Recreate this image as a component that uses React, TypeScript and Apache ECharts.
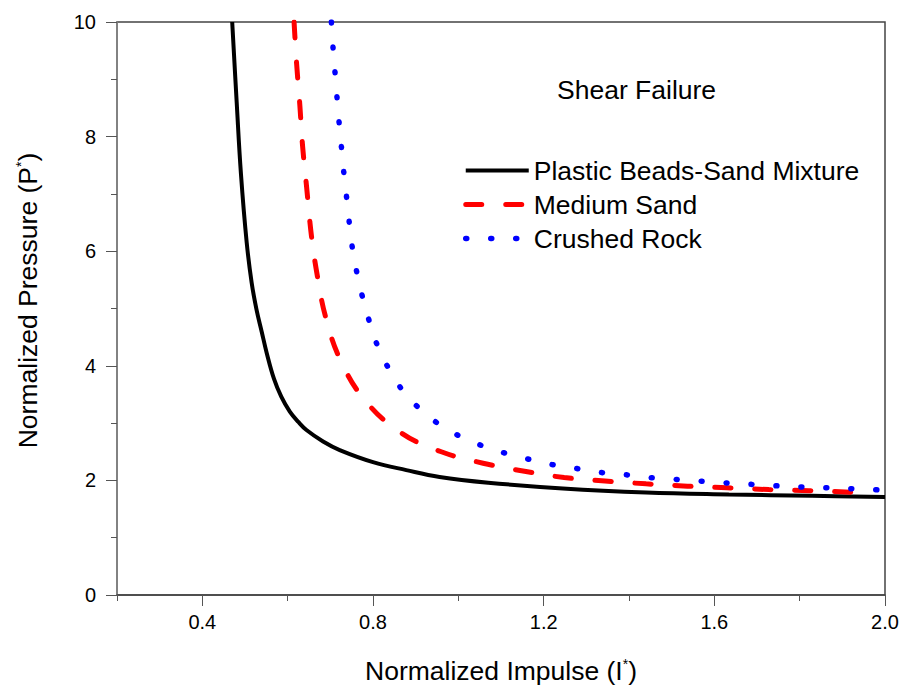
import React, { useEffect, useRef } from "react";
import * as echarts from "echarts";

const seriesNames = ["Plastic Beads-Sand Mixture", "Medium Sand", "Crushed Rock"];

const plasticImpulse = [0.470, 0.4805, 0.4905, 0.504, 0.5156, 0.527, 0.539, 0.551, 0.568, 0.585, 0.605, 0.625, 0.644, 0.683, 0.722, 0.800, 0.878, 0.956, 1.07, 1.245, 1.44, 1.634, 1.829, 2.0];
const plasticPressure = [10.0, 8.60, 7.35, 6.15, 5.45, 4.98, 4.60, 4.22, 3.77, 3.46, 3.20, 3.02, 2.88, 2.68, 2.53, 2.32, 2.18, 2.06, 1.96, 1.86, 1.79, 1.755, 1.73, 1.71];

const sandImpulse = [0.615, 0.621, 0.6286, 0.6349, 0.644, 0.656, 0.670, 0.689, 0.723, 0.781, 0.866, 0.960, 1.058, 1.155, 1.248, 1.344, 1.44, 1.537, 1.63, 1.728, 1.822, 1.919, 1.96];
const sandPressure = [10.0, 9.27, 8.54, 7.84, 7.15, 6.25, 5.55, 4.85, 4.11, 3.40, 2.83, 2.50, 2.30, 2.16, 2.05, 1.99, 1.94, 1.90, 1.87, 1.84, 1.82, 1.795, 1.785];

const rockImpulse = [0.7025, 0.7065, 0.7112, 0.7158, 0.7205, 0.7261, 0.7315, 0.7378, 0.751, 0.761, 0.774, 0.790, 0.809, 0.837, 0.874, 0.930, 0.986, 1.044, 1.103, 1.159, 1.217, 1.275, 1.332, 1.39, 1.447, 1.505, 1.562, 1.620, 1.677, 1.735, 1.792, 1.849, 1.907, 1.964, 1.985];
const rockPressure = [10.0, 9.53, 9.10, 8.67, 8.25, 7.81, 7.38, 6.96, 6.09, 5.67, 5.24, 4.81, 4.38, 3.95, 3.53, 3.12, 2.84, 2.64, 2.49, 2.38, 2.28, 2.21, 2.14, 2.10, 2.05, 2.02, 1.99, 1.96, 1.935, 1.91, 1.89, 1.875, 1.86, 1.84, 1.835];

const xMajorTicks = [0.4, 0.8, 1.2, 1.6, 2.0];
const xMinorTicks = [0.2, 0.6, 1.0, 1.4, 1.8];
const xMin = 0.2;
const xMax = 2.0;
const yMin = 0;
const yMax = 10;
const yInterval = 2;

const FONT = '"Liberation Sans", Arial, sans-serif';
const BIG = 26.5;

const zip = (xs: number[], ys: number[]) => xs.map((x, i) => [x, ys[i]]);

export default function App() {
  const ref = useRef<HTMLDivElement>(null);
  useEffect(() => {
    if (!ref.current) return;
    const chart = echarts.init(ref.current, null, { renderer: "svg" });
    const axisColor = "#555";
    const lineStyles: any[] = [
      { color: "#000", width: 4, type: "solid" },
      { color: "#ff0000", width: 5, type: [16, 24], cap: "round" },
      { color: "#0000ff", width: 5.5, type: [1, 24], cap: "round" },
    ];
    const option: any = {
      animation: false,
      backgroundColor: "#fff",
      textStyle: { fontFamily: FONT },
      grid: {
        left: 117,
        right: 17,
        top: 22,
        bottom: 94,
        containLabel: false,
        outerBoundsMode: "none",
        show: true,
        borderColor: "#444",
        borderWidth: 1.5,
      },
      xAxis: [
        {
          type: "value",
          position: "bottom",
          min: xMin,
          max: xMax,
          axisLine: { show: true, lineStyle: { color: "#444", width: 1.5 } },
          axisTick: { show: true, customValues: xMajorTicks, length: 11, lineStyle: { color: axisColor, width: 1 } },
          axisLabel: {
            customValues: xMajorTicks,
            formatter: (v: number) => v.toFixed(1),
            fontSize: 20,
            color: "#000",
            margin: 17,
            fontFamily: FONT,
          },
          splitLine: { show: false },
          name: "Normalized Impulse (I{sup|*})",
          nameLocation: "middle",
          nameGap: 62,
          nameTextStyle: {
            fontSize: BIG,
            color: "#000",
            fontFamily: FONT,
            rich: { sup: { fontSize: 14, verticalAlign: "top", fontFamily: FONT, color: "#000" } },
          },
        },
        {
          type: "value",
          position: "bottom",
          min: xMin,
          max: xMax,
          axisLine: { show: false },
          axisTick: { show: true, customValues: xMinorTicks, length: 6, lineStyle: { color: axisColor, width: 1 } },
          axisLabel: { show: false },
          splitLine: { show: false },
        },
      ],
      yAxis: [
        {
          type: "value",
          min: yMin,
          max: yMax,
          interval: yInterval,
          axisLine: { show: true, lineStyle: { color: "#888", width: 1.5 } },
          axisTick: { show: true, length: 11, lineStyle: { color: axisColor, width: 1 } },
          minorTick: { show: true, splitNumber: 2, length: 6, lineStyle: { color: axisColor, width: 1 } },
          axisLabel: { fontSize: 20, color: "#000", margin: 21, fontFamily: FONT },
          splitLine: { show: false },
          name: "Normalized Pressure (P{sup|*})",
          nameLocation: "middle",
          nameGap: 76,
          nameTextStyle: {
            fontSize: BIG,
            color: "#000",
            fontFamily: FONT,
            padding: [0, 0, 0, 16],
            rich: { sup: { fontSize: 14, verticalAlign: "top", fontFamily: FONT, color: "#000" } },
          },
        },
      ],
      legend: {
        data: seriesNames.map((name, i) => ({ name, lineStyle: lineStyles[i] })),
        orient: "vertical",
        left: 463,
        top: 157,
        padding: 0,
        itemWidth: 63,
        itemHeight: 14,
        itemGap: 7,
        itemStyle: { opacity: 0 },
        textStyle: { fontSize: BIG, color: "#000", fontFamily: FONT },
      },
      graphic: [
        {
          type: "text",
          left: 557,
          top: 76,
          style: { text: "Shear Failure", fontSize: BIG, fill: "#000", fontFamily: FONT },
        },
      ],
      series: [
        {
          name: seriesNames[0],
          type: "line",
          data: zip(plasticImpulse, plasticPressure),
          showSymbol: false,
          symbol: "none",
          smooth: 0.4,
          lineStyle: lineStyles[0],
          itemStyle: { color: "#000" },
        },
        {
          name: seriesNames[1],
          type: "line",
          data: zip(sandImpulse, sandPressure),
          showSymbol: false,
          symbol: "none",
          smooth: 0.4,
          lineStyle: lineStyles[1],
          itemStyle: { color: "#ff0000" },
        },
        {
          name: seriesNames[2],
          type: "line",
          data: zip(rockImpulse, rockPressure),
          showSymbol: false,
          symbol: "none",
          smooth: 0.4,
          lineStyle: lineStyles[2],
          itemStyle: { color: "#0000ff" },
        },
      ],
    };
    chart.setOption(option);
    return () => chart.dispose();
  }, []);
  return (
    <div
      ref={ref}
      style={{ position: "absolute", left: 0, top: 0, width: 902, height: 689, background: "#fff" }}
    />
  );
}
